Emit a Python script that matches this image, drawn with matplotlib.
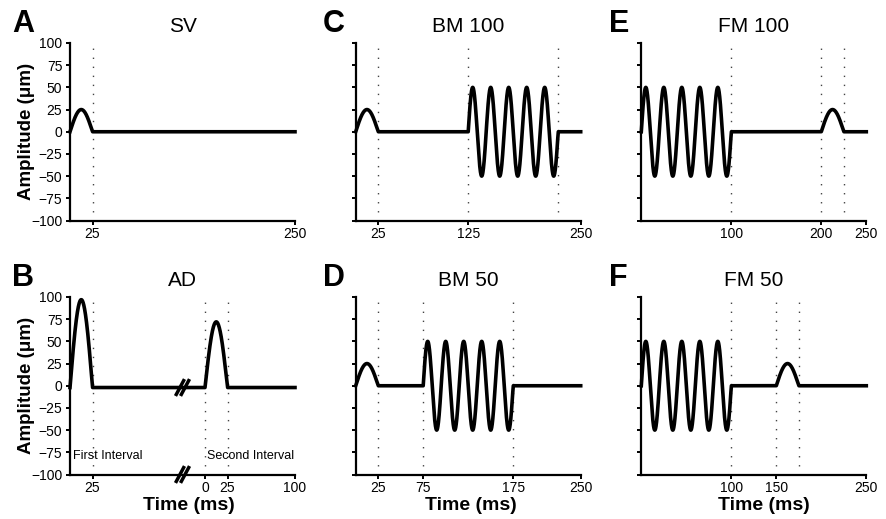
import numpy as np
import matplotlib
matplotlib.use("Agg")
import matplotlib.pyplot as plt

plt.rcParams['font.family'] = ['Liberation Sans', 'DejaVu Sans']

letters = ['A', 'B', 'C', 'D', 'E', 'F']
titles = ['SV', 'AD', 'BM 100', 'BM 50', 'FM 100', 'FM 50']

# single half-sine pulses: (start ms, end ms, peak height above baseline, um)
pulses = {
    'A': [(0, 25, 25)],
    'B': [(0, 25, 99), (150, 175, 74)],
    'C': [(0, 25, 25)],
    'D': [(0, 25, 25)],
    'E': [(200, 225, 25)],
    'F': [(150, 175, 25)],
}
# sinusoidal masker: (start ms, end ms, amplitude um, cycles)
oscillations = {
    'C': [(125, 225, 50, 5)],
    'D': [(75, 175, 50, 5)],
    'E': [(0, 100, 50, 5)],
    'F': [(0, 100, 50, 5)],
}
baselines = {'B': -2}
dotted = {'A': [25], 'B': [25, 150, 175], 'C': [25, 125, 225],
          'D': [25, 75, 175], 'E': [100, 200, 225], 'F': [100, 150, 175]}
xticks = {'A': [25, 250], 'B': [25, 150, 175, 250], 'C': [25, 125, 250],
          'D': [25, 75, 175, 250], 'E': [100, 200, 250], 'F': [100, 150, 250]}
xticklabels = {'B': ['25', '0', '25', '100']}
yticks = [-100, -75, -50, -25, 0, 25, 50, 75, 100]
break_at = 125
interval_labels = ['First Interval', 'Second Interval']

W, H = 887, 519
fig = plt.figure(figsize=(W / 100, H / 100), dpi=100)

col_left = {'A': 70, 'B': 70, 'C': 355.7, 'D': 355.7, 'E': 641.3, 'F': 641.3}
row_top = {'A': 43, 'C': 43, 'E': 43, 'B': 297, 'D': 297, 'F': 297}
ax_w, ax_h = 225, 177.5

letter_x = {'A': 12, 'B': 12, 'C': 323, 'D': 323, 'E': 609, 'F': 609}
xlabel_cx = {'B': 189, 'D': 471, 'F': 764}

for L, title in zip(letters, titles):
    left = col_left[L]
    top = row_top[L]
    ax = fig.add_axes([left / W, 1 - (top + ax_h) / H, ax_w / W, ax_h / H])
    t = np.linspace(0, 250, 10001)
    base = baselines.get(L, 0)
    y = np.full_like(t, base, dtype=float)
    for s, e, a in pulses.get(L, []):
        m = (t >= s) & (t <= e)
        y[m] = base + a * np.sin(np.pi * (t[m] - s) / (e - s))
    for s, e, a, n in oscillations.get(L, []):
        m = (t >= s) & (t <= e)
        y[m] = a * np.sin(2 * np.pi * n * (t[m] - s) / (e - s))
    for xv in dotted[L]:
        ax.plot([xv, xv], [-100, 96], color='#444444', lw=1.0,
                linestyle=(0, (1, 5.5)), zorder=1)
    ax.plot(t, y, color='black', lw=2.6, zorder=3, clip_on=False,
            solid_joinstyle='round')
    ax.set_xlim(0, 250)
    ax.set_ylim(-100, 100)
    for sp in ['top', 'right']:
        ax.spines[sp].set_visible(False)
    for sp in ['left', 'bottom']:
        ax.spines[sp].set_linewidth(1.6)
    ax.set_xticks(xticks[L])
    ax.set_xticklabels(xticklabels.get(L, [str(v) for v in xticks[L]]))
    ax.set_yticks(yticks)
    ax.tick_params(direction='out', length=3, width=1.4, labelsize=10, pad=2)
    if L not in ('A', 'B'):
        ax.set_yticklabels([])
    else:
        ax.tick_params(axis='y', pad=2.5)
    ax.patch.set_visible(False)

    cx = left + ax_w / 2
    fig.text(cx / W, 1 - (top - 11) / H, title, ha='center', va='baseline',
             fontsize=15)
    fig.text(letter_x[L] / W, 1 - (top - 11) / H, L, ha='left',
             va='baseline', fontsize=22, fontweight='bold')
    if L in ('A', 'B'):
        fig.text(27 / W, 1 - (top + ax_h / 2) / H, 'Amplitude (μm)',
                 rotation=90, ha='center', va='center', fontsize=13.5,
                 fontweight='bold')
    if L in xlabel_cx:
        fig.text(xlabel_cx[L] / W, 1 - 510 / H, 'Time (ms)', ha='center',
                 va='baseline', fontsize=14, fontweight='bold')

    if L == 'B':
        for yc in (base, -100):
            for dx in (-2.8, 2.8):
                xc = break_at + dx
                ax.plot([xc - 5, xc + 5], [yc - 9.5, yc + 9.5], color='black',
                        lw=2.5, clip_on=False, zorder=5,
                        solid_capstyle='butt')
        ax.text(3, -82, interval_labels[0], fontsize=9, va='baseline',
                ha='left')
        ax.text(152, -82, interval_labels[1], fontsize=9, va='baseline',
                ha='left')

fig.savefig('out.png', dpi=100)
